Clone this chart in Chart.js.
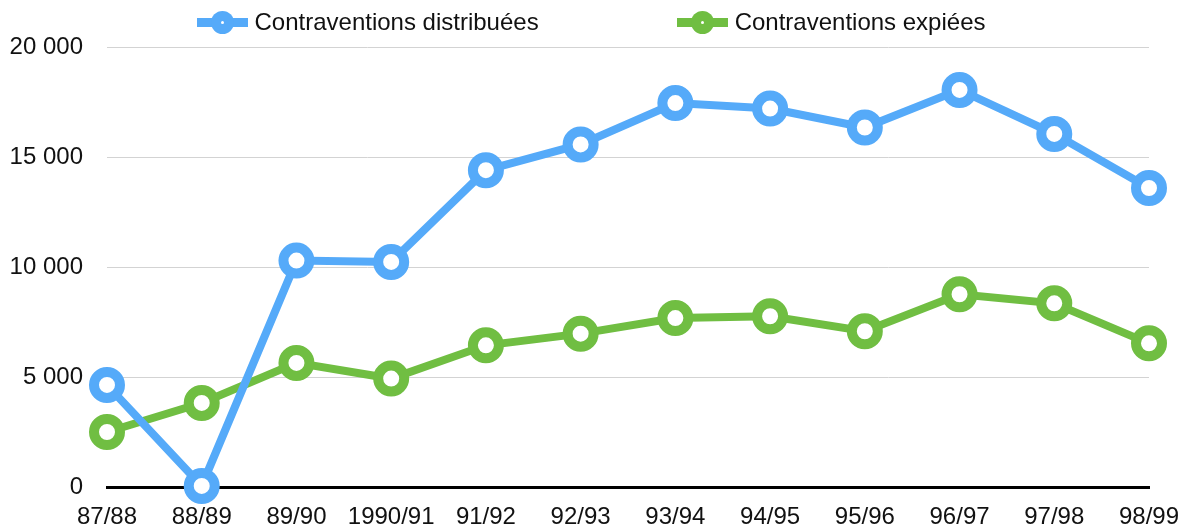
<!DOCTYPE html>
<html lang="fr">
<head>
<meta charset="utf-8">
<script src="https://cdn.jsdelivr.net/npm/chart.js@4/dist/chart.umd.min.js"></script>
<style>
    html, body { margin: 0; padding: 0; background: #fff; }
    #wrap { position: relative; width: 1182px; height: 527px; }
    #legend {
        position: absolute; top: 8px; left: 0; width: 1182px;
        display: flex; justify-content: center; gap: 138px;
        font-family: "Liberation Sans", Arial, sans-serif; font-size: 24px; color: #111;
    }
    .item { display: flex; align-items: center; }
    .icon { position: relative; width: 51px; height: 28px; margin-right: 7px; }
    .icon .bar { position: absolute; left: 0; top: 10px; width: 51px; height: 9px; }
    .icon .dot { position: absolute; left: 14px; top: 3px; width: 23px; height: 23px; border-radius: 50%; }
    .icon .hole { position: absolute; left: 24px; top: 13px; width: 3px; height: 3px; border-radius: 50%; background: #fff; }
</style>
</head>
<body>
<div id="wrap">
    <div id="legend"></div>
    <canvas id="chart" width="1182" height="527"></canvas>
</div>
<script>
const seasons = ['87/88', '88/89', '89/90', '1990/91', '91/92', '92/93', '93/94', '94/95', '95/96', '96/97', '97/98', '98/99'];
const distribuees = [4640, 50, 10290, 10230, 14400, 15570, 17450, 17200, 16340, 18050, 16050, 13590];
const expiees = [2500, 3820, 5640, 4930, 6440, 6970, 7680, 7760, 7080, 8760, 8350, 6530];
const yTicks = [0, 5000, 10000, 15000, 20000];

const blue = '#55aaf9';
const green = '#70be42';

const series = [
    { label: 'Contraventions distribuées', data: distribuees, color: blue },
    { label: 'Contraventions expiées', data: expiees, color: green }
];

// legend in html (line + ring like the original)
const legend = document.getElementById('legend');
series.forEach(s => {
    const item = document.createElement('div');
    item.className = 'item';
    item.innerHTML = '<div class="icon"><div class="bar"></div><div class="dot"></div><div class="hole"></div></div>';
    item.querySelector('.bar').style.background = s.color;
    item.querySelector('.dot').style.background = s.color;
    const text = document.createElement('span');
    text.textContent = s.label;
    item.appendChild(text);
    legend.appendChild(item);
});

const font = { family: '"Liberation Sans", Arial, sans-serif', size: 24 };

new Chart(document.getElementById('chart').getContext('2d'), {
    type: 'line',
    data: {
        labels: seasons,
        datasets: series.map(s => ({
            label: s.label,
            data: s.data,
            borderColor: s.color,
            borderWidth: 8,
            tension: 0,
            pointRadius: 13,
            pointBorderWidth: 10,
            pointBackgroundColor: '#fff',
            pointBorderColor: s.color,
            pointHoverRadius: 13,
            clip: false
        }))
    },
    options: {
        responsive: false,
        animation: false,
        layout: { padding: { top: 47, right: 33, left: 0, bottom: 0 } },
        plugins: { legend: { display: false }, tooltip: { enabled: false } },
        scales: {
            x: {
                offset: false,
                grid: { display: false, drawTicks: false },
                border: { display: true, color: '#000', width: 3 },
                ticks: { font: font, color: '#111', padding: 16, maxRotation: 0, autoSkip: false },
                afterFit: scale => {
                    scale.height = 40;
                    // edge labels may overflow, like the original
                    scale.paddingLeft = 0;
                    scale.paddingRight = 0;
                }
            },
            y: {
                min: 0,
                max: 20000,
                afterBuildTicks: scale => { scale.ticks = yTicks.map(v => ({ value: v })); },
                grid: {
                    drawTicks: false,
                    color: ctx => ctx.tick && ctx.tick.value === 0 ? 'rgba(0,0,0,0)' : '#d3d3d3',
                    lineWidth: 1
                },
                border: { display: false },
                ticks: {
                    font: font,
                    color: '#111',
                    padding: 24,
                    callback: v => String(v).replace(/\B(?=(\d{3})+(?!\d))/g, ' ')
                },
                afterFit: scale => { scale.width = 107; }
            }
        }
    }
});
</script>
</body>
</html>
